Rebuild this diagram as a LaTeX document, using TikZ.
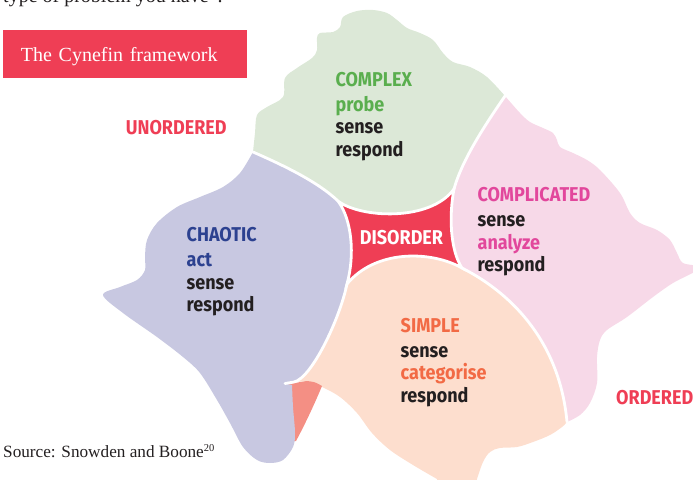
\documentclass[tikz,border=0pt]{standalone}
\usepackage{fontspec}
\setmainfont{Liberation Serif}
\newfontfamily\domainfont{Fira Sans}[FakeStretch=0.9]

\definecolor{cyRed}{HTML}{EF3E55}
\definecolor{ink}{HTML}{231F20}
\definecolor{complexFill}{HTML}{DCE8D7}
\definecolor{complexInk}{HTML}{5AAE4E}
\definecolor{chaoticFill}{HTML}{C8C8E1}
\definecolor{chaoticInk}{HTML}{2C4190}
\definecolor{complicatedFill}{HTML}{F7D9E8}
\definecolor{complicatedInk}{HTML}{E2479C}
\definecolor{simpleFill}{HTML}{FDDECE}
\definecolor{simpleInk}{HTML}{F26A45}
\definecolor{wedgeFill}{HTML}{F48F84}

\tikzset{
  domaintext/.style={font=\domainfont\bfseries\fontsize{20}{22.5}\selectfont,
    align=left, inner sep=0pt, text=ink, anchor=north west},
  orderlabel/.style={font=\domainfont\bfseries\fontsize{20}{22.5}\selectfont,
    inner sep=0pt, text=cyRed, anchor=base west},
  titlebox/.style={fill=cyRed, text=white, font=\fontsize{20}{24}\selectfont,
    anchor=north west, inner xsep=17.7pt, inner ysep=0pt, text width=208.3pt,
    align=left, minimum height=47.7pt, text height=14pt, text depth=0pt},
  gap/.style={draw=white, line width=2.8pt, line cap=round},
}

\begin{document}
\begin{tikzpicture}[x=1pt,y=-1pt]
    \useasboundingbox (0,0) rectangle (693,479);
    \clip (0,0) rectangle (693,479);

    % junctions of the five domains
    \coordinate (gc) at (253,152);
    \coordinate (gp) at (505,96);
    \coordinate (dnw) at (338,201);
    \coordinate (dne) at (454,189);
    \coordinate (dse) at (462,268);
    \coordinate (dsw) at (347,284);
    \coordinate (ps) at (567,422);
    \coordinate (hk) at (294,382);
    \coordinate (hkend) at (285,383.5);

    % complex
    \fill[complexFill] (gc) .. controls (285,166) and (318,182) .. (dnw)
        .. controls (360,218) and (430,222) .. (dne)
        .. controls (462,160) and (485,125) .. (gp)
        -- plot[smooth, tension=.55] coordinates {(gp) (487,77) (470,67) (453,62)
           (443,53) (433,40) (420,33) (407,28) (397,20) (387,13) (373,10) (357,11)
           (343,17) (340,27) (333,32) (320,33) (317,38) (317,50) (312,58) (297,68)
           (285,78) (283,97) (267,107) (257,115) (255,133) (gc)} -- cycle;
    % complicated
    \fill[complicatedFill] (dne) .. controls (462,160) and (485,125) .. (gp)
        -- plot[smooth, tension=.55] coordinates {(gp) (520,113) (530,122) (543,128)
           (553,133) (557,140) (560,147) (573,153) (587,160) (600,170) (620,193)
           (630,213) (640,223) (657,230) (670,240) (677,253) (683,263) (700,268)
           (673,283) (653,297) (627,317) (607,330) (600,340) (597,357) (597,383)
           (590,403) (580,415) (ps)}
        .. controls (560,345) and (515,295) .. (dse)
        .. controls (450,250) and (449,215) .. (dne) -- cycle;
    % simple
    \fill[simpleFill] (dsw) .. controls (375,250) and (430,250) .. (dse)
        .. controls (515,295) and (560,345) .. (ps)
        -- plot[smooth, tension=.55] coordinates {(ps) (562,427) (550,435) (533,442)
           (517,447) (500,448) (490,452) (483,462) (477,479) (474,490)}
        -- (440,490)
        -- plot[smooth, tension=.55] coordinates {(437,479) (413,465) (390,450)
           (372,433) (357,413) (340,397) (322,387) (307,382) (hk)}
        .. controls (312,378) and (340,318) .. (dsw) -- cycle;
    % wedge under the hook
    \fill[wedgeFill] (288,384) -- (307,381) .. controls (315,382) .. (322,386)
        .. controls (312,410) and (302,430) .. (296,441) -- (288,441) -- cycle;
    % chaotic
    \fill[chaoticFill] (dnw) .. controls (318,182) and (285,166) .. (gc)
        -- plot[smooth, tension=.55] coordinates {(gc) (240,173) (223,187) (200,197)
           (177,207) (157,223) (147,240) (145,257) (145,270) (137,280) (120,287)
           (103,295) (123,313) (157,337) (183,357) (200,373) (217,400) (230,423)
           (243,447) (257,460) (270,463) (283,460) (293,447) (295,433) (293,407)
           (292,385)}
        -- (hkend) -- (hk)
        .. controls (312,378) and (340,318) .. (dsw)
        .. controls (355,255) and (352,220) .. (dnw) -- cycle;
    % disorder
    \fill[cyRed] (dnw) .. controls (360,218) and (430,222) .. (dne)
        .. controls (449,215) and (450,250) .. (dse)
        .. controls (430,250) and (375,250) .. (dsw)
        .. controls (355,255) and (352,220) .. (dnw) -- cycle;

    % white borders
    \draw[gap] (gc) .. controls (285,166) and (318,182) .. (dnw);
    \draw[gap] (gp) .. controls (485,125) and (462,160) .. (dne);
    \draw[gap] (dnw) .. controls (360,218) and (430,222) .. (dne)
        .. controls (449,215) and (450,250) .. (dse)
        .. controls (430,250) and (375,250) .. (dsw)
        .. controls (355,255) and (352,220) .. (dnw);
    \draw[gap] (dsw) .. controls (340,318) and (312,378) .. (hk) -- (hkend);
    \draw[gap] (dse) .. controls (515,295) and (560,345) .. (ps);

    \node[domaintext] (complex) at (335.5,72)
        {{\color{complexInk}COMPLEX}\\[2.5pt]{\color{complexInk}probe}\\sense\\respond};
    \node[domaintext] (chaotic) at (186.5,227.5)
        {{\color{chaoticInk}CHAOTIC}\\[2.5pt]{\color{chaoticInk}act}\\sense\\respond};
    \node[domaintext] (complicated) at (477.5,187.3)
        {{\color{complicatedInk}COMPLICATED}\\[2.5pt]sense\\{\color{complicatedInk}analyze}\\respond};
    \node[domaintext] (simple) at (400.5,318)
        {{\color{simpleInk}SIMPLE}\\[2.5pt]sense\\{\color{simpleInk}categorise}\\respond};
    \node[orderlabel, text=white, anchor=base] (disorder) at (401.5,244.3) {DISORDER};
    \node[orderlabel] (unordered) at (125.7,134) {UNORDERED};
    \node[orderlabel] (ordered) at (616,404.7) {ORDERED};

    \node[titlebox] (title) at (3,30) {The Cynefin framework};
    \node[anchor=base west, inner sep=0pt, text=ink, font=\fontsize{20}{24}\selectfont]
        (lead) at (3,2.5) {type of problem you have”.};
    \node[anchor=base west, inner sep=0pt, text=ink, font=\fontsize{17.2}{20}\selectfont]
        (source) at (3,457.7) {Source: Snowden and Boone{\fontsize{10.5}{12}\selectfont\raisebox{6.5pt}{20}}};
\end{tikzpicture}
\end{document}
